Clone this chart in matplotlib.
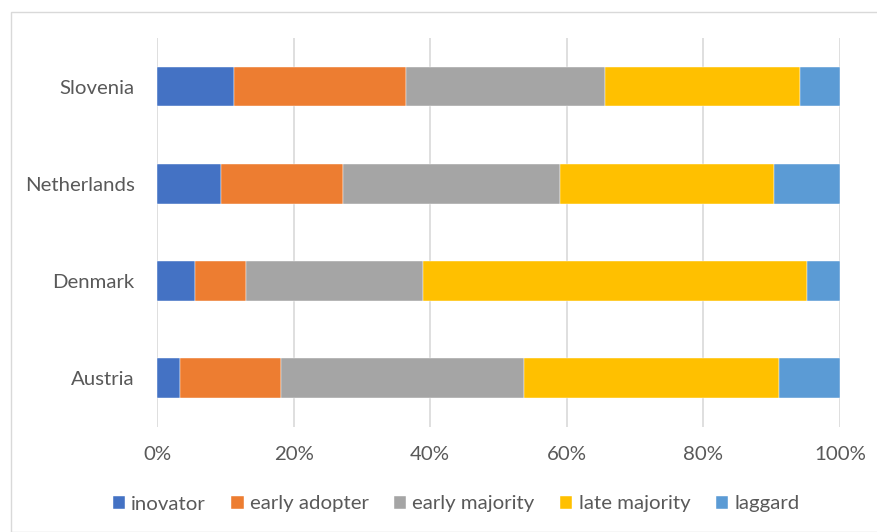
import matplotlib
matplotlib.use("Agg")
import matplotlib.pyplot as plt
from matplotlib.patches import Rectangle
import numpy as np

countries = ["Austria", "Denmark", "Netherlands", "Slovenia"]
series_names = ["inovator", "early adopter", "early majority", "late majority", "laggard"]
inovator = [3.3, 5.6, 9.3, 11.3]
early_adopter = [14.8, 7.5, 17.9, 25.1]
early_majority = [35.6, 25.8, 31.8, 29.2]
late_majority = [37.4, 56.2, 31.3, 28.5]
laggard = [8.9, 4.9, 9.7, 5.9]
colors = ["#4472C4", "#ED7D31", "#A5A5A5", "#FFC000", "#5B9BD5"]
xticks = [0, 20, 40, 60, 80, 100]
xticklabels = ["0%", "20%", "40%", "60%", "80%", "100%"]

plt.rcParams['font.family'] = ['Lato', 'DejaVu Sans']
text_color = "#595959"
grid_color = "#D9D9D9"

W, H = 878, 532
fig = plt.figure(figsize=(W / 100, H / 100), dpi=100)
fig.patches.append(Rectangle((11 / W, 0), 1.0, 1 - 12 / H, transform=fig.transFigure,
                             fill=False, edgecolor=grid_color, linewidth=1.0, zorder=0))

ax = fig.add_axes([157 / W, 1 - 426.5 / H, (840 - 157) / W, (426.5 - 38) / H])

data = [inovator, early_adopter, early_majority, late_majority, laggard]
y = np.arange(len(countries))
left = np.zeros(len(countries))
for name, vals, c in zip(series_names, data, colors):
    vals = np.array(vals, dtype=float)
    ax.barh(y, vals, left=left, height=0.41, color=c, label=name, zorder=3,
            edgecolor="white", linewidth=0.3)
    left += vals

ax.set_xlim(0, 100)
ax.set_ylim(-0.5, len(countries) - 0.5)
ax.set_xticks(xticks)
ax.set_xticklabels(xticklabels)
ax.set_yticks(y)
ax.set_yticklabels(countries)
ax.tick_params(axis="both", length=0, labelsize=14.7, colors=text_color)
ax.tick_params(axis="x", pad=14)
ax.tick_params(axis="y", pad=16)
for s in ax.spines.values():
    s.set_visible(False)
ax.xaxis.grid(True, color=grid_color, linewidth=1.2, zorder=0)
ax.set_axisbelow(True)

handles, labels = ax.get_legend_handles_labels()
leg = fig.legend(handles, labels, loc="center", bbox_to_anchor=(456 / W, 1 - 504 / H),
                 ncol=5, frameon=False, fontsize=14.7, handlelength=0.6, handleheight=0.6,
                 handletextpad=0.3, columnspacing=1.25)
for t in leg.get_texts():
    t.set_color(text_color)

fig.savefig("out.png", dpi=100)
